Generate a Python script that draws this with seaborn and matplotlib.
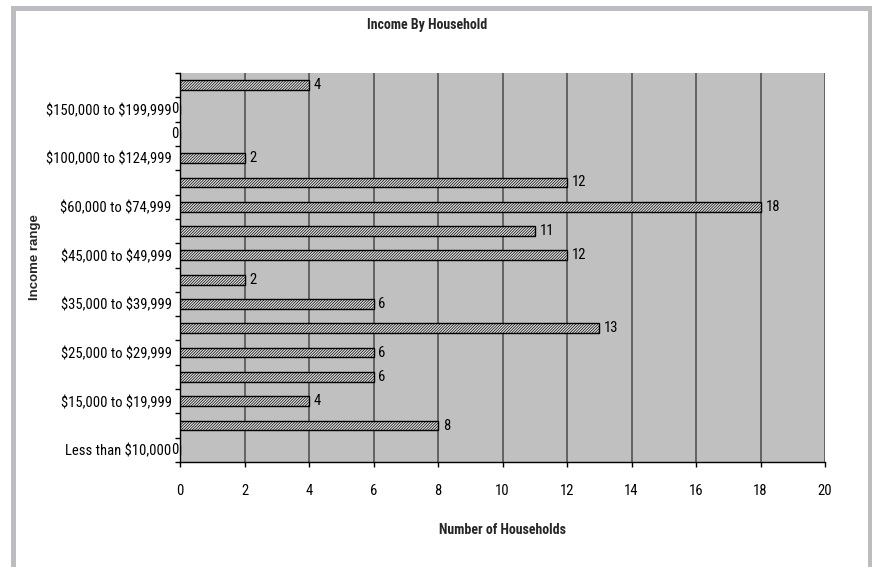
import matplotlib
matplotlib.use("Agg")
import matplotlib.pyplot as plt
import seaborn as sns
import pandas as pd
from matplotlib.patches import Rectangle
from matplotlib import font_manager

# ---- data (bottom to top as drawn) ----
categories = [
    "Less than $10,000",
    "$10,000 to $14,999",
    "$15,000 to $19,999",
    "$20,000 to $24,999",
    "$25,000 to $29,999",
    "$30,000 to $34,999",
    "$35,000 to $39,999",
    "$40,000 to $44,999",
    "$45,000 to $49,999",
    "$50,000 to $59,999",
    "$60,000 to $74,999",
    "$75,000 to $99,999",
    "$100,000 to $124,999",
    "$125,000 to $149,999",
    "$150,000 to $199,999",
    "$200,000 or more",
]
households = [0, 8, 4, 6, 6, 13, 6, 2, 12, 11, 18, 12, 2, 0, 0, 4]
x_ticks = [0, 2, 4, 6, 8, 10, 12, 14, 16, 18, 20]

title = "Income By Household"
x_title = "Number of Households"
y_title = "Income range"

sns.set_theme(style="white")
names = {f.name for f in font_manager.fontManager.ttflist}
narrow = None
for cand in ["Liberation Sans Narrow", "Roboto Condensed", "Open Sans Condensed"]:
    if cand in names:
        narrow = cand
        break
base = narrow if narrow else "Liberation Sans"
plt.rcParams["font.family"] = [base, "DejaVu Sans"]
plt.rcParams["hatch.linewidth"] = 0.5
ytick_size = 10.5 if narrow else 8.6


def esc(s):
    return s.replace("$", r"\$")


W, H = 872, 567
fig = plt.figure(figsize=(W / 100, H / 100), dpi=100)
fig.patch.set_facecolor("white")

# outer grey frame
fig.patches.append(Rectangle((13 / W, -0.05), (869.5 - 13) / W, (H - 7.5) / H + 0.05,
                             transform=fig.transFigure, fill=False,
                             edgecolor="#BDBDC1", linewidth=3.6, zorder=0))

L, R, T, B = 180, 825, 73, 462
ax = fig.add_axes([L / W, 1 - B / H, (R - L) / W, (B - T) / H])
ax.set_facecolor("#C0C0C0")

df = pd.DataFrame({"Income": categories, "Households": households})
order = categories[::-1]
sns.barplot(data=df, x="Households", y="Income", order=order, orient="h",
            color="#E2E2E2", edgecolor="black", linewidth=1.0, width=0.4,
            saturation=1, ax=ax)
for p in ax.patches:
    p.set_hatch("/" * 12)
    p.set_zorder(3)

n = len(categories)
ax.set_xlim(0, 20)
ax.set_ylim(n - 0.5, -0.5)
ax.set_xticks(x_ticks)
ax.set_xticklabels([str(t) for t in x_ticks])
ax.set_axisbelow(True)
ax.xaxis.grid(True, color="#4a4a4a", linewidth=1.1)
ax.yaxis.grid(False)

# y ticks: labels on every other category, tick marks on category boundaries
ax.set_yticks(range(n))
ax.set_yticklabels([esc(c) if (n - 1 - i) % 2 == 0 else "" for i, c in enumerate(order)])
ax.set_yticks([i - 0.5 for i in range(n + 1)], minor=True)
ax.tick_params(axis="y", which="major", length=0, pad=6, labelsize=ytick_size, colors="black")
ax.tick_params(axis="y", which="minor", length=3.5, width=1, color="black", left=True)
ax.tick_params(axis="x", which="major", length=3.6, width=1, color="black",
               bottom=True, pad=12, labelsize=10.5, labelcolor="black")

for s in ["top", "right"]:
    ax.spines[s].set_visible(False)
for s in ["left", "bottom"]:
    ax.spines[s].set_color("black")
    ax.spines[s].set_linewidth(1.0)

# data labels
for i, cat in enumerate(order):
    v = households[categories.index(cat)]
    if v > 0:
        ax.annotate(str(v), (v, i), xytext=(3.5, 0), textcoords="offset points",
                    ha="left", va="center", fontsize=10.5, color="black", zorder=5)
    else:
        ax.annotate(str(v), (v, i), xytext=(-1.0, 0), textcoords="offset points",
                    ha="right", va="center", fontsize=10.5, color="black", zorder=5,
                    annotation_clip=False)

ax.set_xlabel(x_title, fontsize=10, fontweight="bold", va="center")
ax.xaxis.set_label_coords((502 - L) / (R - L), (B - 530) / (B - T))
ax.set_ylabel(y_title, fontsize=9.5, fontweight="bold", va="center",
              family=["Liberation Sans", "DejaVu Sans"])
ax.yaxis.set_label_coords((35 - L) / (R - L), (B - 257) / (B - T))

fig.text(427 / W, 1 - 25 / H, title, ha="center", va="center",
         fontsize=10, fontweight="bold")

fig.savefig("out.png", dpi=100)
